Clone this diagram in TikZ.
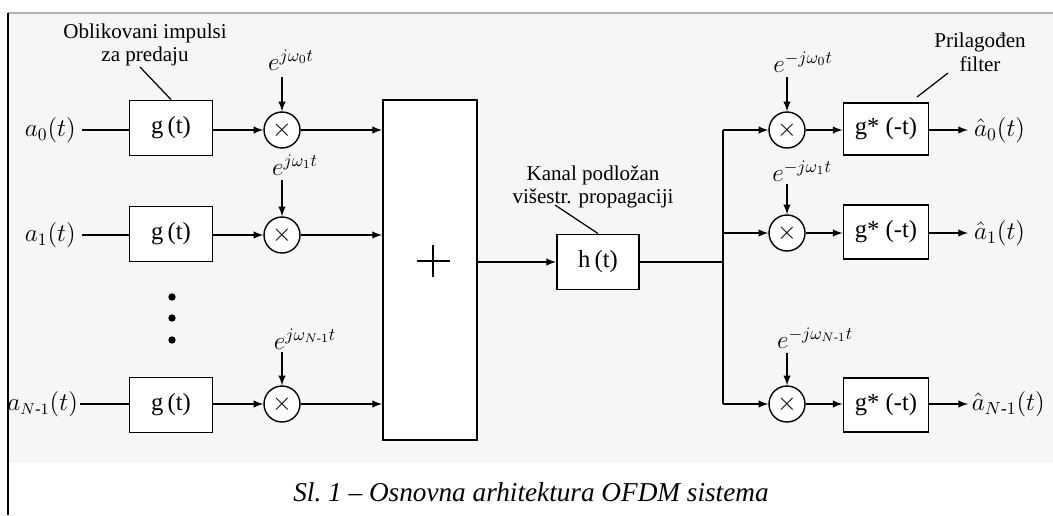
\documentclass[tikz,border=0pt]{standalone}
\usepackage{amsmath}
\usepackage{fontspec}
\setmainfont{Liberation Serif}
\usetikzlibrary{calc,positioning}

\tikzset{
  vod/.style={line width=0.9pt},
  strel/.style={vod, -latex},
  blok/.style={draw, line width=1.1pt, fill=white, minimum width=1.66cm, minimum height=1.1cm, font=\fontsize{14}{16}\selectfont},
  mnoz/.style={draw, circle, line width=0.8pt, fill=white, minimum size=0.72cm, inner sep=0pt, font=\fontsize{14}{16}\selectfont},
  signal/.style={font=\fontsize{14.5}{17}\selectfont},
  eksp/.style={font=\fontsize{14}{16}\selectfont, inner sep=1pt},
  opis/.style={font=\fontsize{12}{13.5}\selectfont, align=center, inner sep=1pt},
  tocka/.style={circle, fill, inner sep=0pt, minimum size=4.2pt}
}

\begin{document}
\begin{tikzpicture}[x=0.02cm, y=-0.02cm]
\useasboundingbox (0,0) rectangle (1053,515);
% --- pozadina i okvir ---
\fill[gray!7] (8,13) rectangle (1053,463);
\draw[gray!60, line width=0.8pt] (8,13) -- (1053,13);
\draw[line width=1.2pt] (8,13) -- (8,515);

% --- predajnik ---
\node[blok] (g0) at (171,128) {g\,(t)};
\node[blok] (g1) at (171,234) {g\,(t)};
\node[blok] (g2) at (171,405) {g\,(t)};
\node[signal, anchor=east] (a0) at (82,130) {$a_0(t)$};
\node[signal, anchor=east] (a1) at (82,235) {$a_1(t)$};
\node[signal, anchor=east, inner sep=1pt, font=\fontsize{13.5}{16}\selectfont] (a2) at (80,404) {$a_{N\text{-}1}(t)$};
\draw[vod] (a0) -- (a0 -| g0.west);
\draw[vod] (a1) -- (a1 -| g1.west);
\draw[vod] (a2) -- (a2 -| g2.west);

\node[mnoz] (m0) at (282,130) {$\times$};
\node[mnoz] (m1) at (282,235) {$\times$};
\node[mnoz] (m2) at (282,404) {$\times$};
\draw[strel] (g0.east |- m0) -- (m0);
\draw[strel] (g1.east |- m1) -- (m1);
\draw[strel] (g2.east |- m2) -- (m2);

\node[eksp] (e0) at (291,60) {$e^{j\omega_0 t}$};
\node[eksp] (e1) at (295,165) {$e^{j\omega_1 t}$};
\node[eksp] (e2) at (305,339) {$e^{j\omega_{N\text{-}1} t}$};
\draw[strel] (m0 |- 0,77) -- (m0.north);
\draw[strel] (m1 |- 0,180) -- (m1.north);
\draw[strel] (m2 |- 0,352) -- (m2.north);

\node[tocka] (d1) at (172,297) {};
\node[tocka] (d2) at (172,318) {};
\node[tocka] (d3) at (172,340) {};

\node[opis] (opis1) at (145,45) {Oblikovani impulsi\\za predaju};
\draw[line width=0.7pt] (140,67) -- (g0.north);

% --- sabirac i kanal ---
\node[draw, line width=1.1pt, fill=white, minimum width=1.88cm, minimum height=6.8cm] (sum) at (430,270) {};
\node (plus) at (433,261) {};
\draw[line width=0.8pt] (plus.center) +(-16,0) -- +(17,0) (plus.center) +(0,-16) -- +(0,16);
\draw[strel] (m0) -- (m0 -| sum.west);
\draw[strel] (m1) -- (m1 -| sum.west);
\draw[strel] (m2) -- (m2 -| sum.west);

\node[blok, minimum width=1.64cm] (h) at (598,262) {h\,(t)};
\draw[strel] (sum.east |- h) -- (h);
\node[opis] (opis2) at (593,187) {Kanal podložan\\višestr. propagaciji};
\draw[line width=0.7pt] (555,205) -- (h.north);

% --- prijemnik ---
\coordinate (cv) at (723,262);
\node[mnoz] (n0) at (787,130) {$\times$};
\node[mnoz] (n1) at (787,233) {$\times$};
\node[mnoz] (n2) at (787,404) {$\times$};
\draw[vod] (h) -- (cv);
\draw[vod] (cv |- n0) -- (cv |- n2);
\draw[strel] (cv |- n0) -- (n0);
\draw[strel] (cv |- n1) -- (n1);
\draw[strel] (cv |- n2) -- (n2);

\node[eksp] (f0) at (803,62) {$e^{-j\omega_0 t}$};
\node[eksp] (f1) at (802,171) {$e^{-j\omega_1 t}$};
\node[eksp] (f2) at (815,338) {$e^{-j\omega_{N\text{-}1} t}$};
\draw[strel] (n0 |- 0,77) -- (n0.north);
\draw[strel] (n1 |- 0,184) -- (n1.north);
\draw[strel] (n2 |- 0,353) -- (n2.north);

\node[blok, minimum width=1.7cm, minimum height=1.04cm] (q0) at (886,129) {g* (-t)};
\node[blok, minimum width=1.7cm, minimum height=1.08cm] (q1) at (886,232) {g* (-t)};
\node[blok, minimum width=1.7cm, minimum height=1.08cm] (q2) at (886,405) {g* (-t)};
\draw[strel] (n0) -- (n0 -| q0.west);
\draw[strel] (n1) -- (n1 -| q1.west);
\draw[strel] (n2) -- (n2 -| q2.west);

\node[signal, anchor=west] (b0) at (968,130) {$\hat{a}_0(t)$};
\node[signal, anchor=west] (b1) at (968,233) {$\hat{a}_1(t)$};
\node[signal, anchor=west, inner sep=2pt] (b2) at (968,404) {$\hat{a}_{N\text{-}1}(t)$};
\draw[strel] (q0.east |- b0) -- (b0.west);
\draw[strel] (q1.east |- b1) -- (b1.west);
\draw[strel] (q2.east |- b2) -- (b2.west);

\node[opis] (opis3) at (980,52) {Prilagođen\\filter};
\draw[line width=0.7pt] (948,73) -- (917,97);

% --- naslov ---
\node[font=\itshape\fontsize{15.5}{18}\selectfont] (naslov) at (531,492) {Sl.~1 – Osnovna arhitektura OFDM sistema};
\end{tikzpicture}
\end{document}
